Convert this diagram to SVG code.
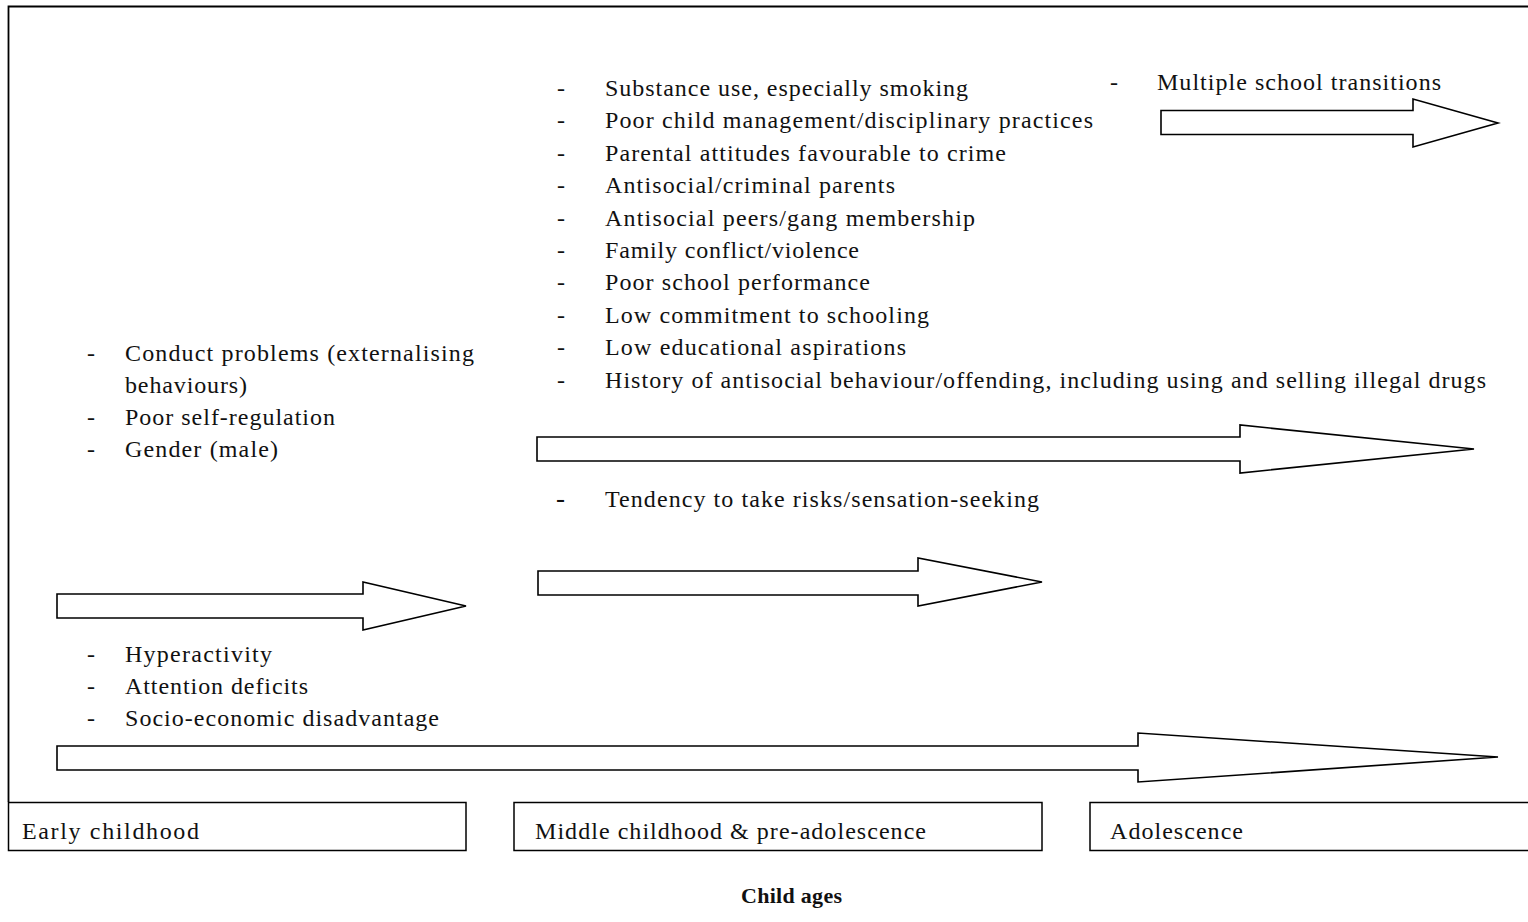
<svg xmlns="http://www.w3.org/2000/svg" width="1528" height="922" viewBox="0 0 1528 922">
<style>
text { font-family: "Liberation Serif", "Times New Roman", serif; font-size: 24px; fill: #111; }
.bold { font-weight: bold; font-size: 22px; }
.frame { fill: none; stroke: #000; stroke-width: 1.8; }
.box { fill: #fff; stroke: #000; stroke-width: 1.5; }
.arrow { fill: #fff; stroke: #000; stroke-width: 1.6; stroke-linejoin: miter; }
</style>
<rect width="1528" height="922" fill="#fff"/>
<g id="frame">
<path class="frame" d="M8.5,802 L8.5,6.5 L1530,6.5"/>
</g>
<g id="connectors">
<polygon class="arrow" points="1161,110.5 1413,110.5 1413,99 1498,123 1413,147 1413,134.5 1161,134.5"/>
<polygon class="arrow" points="537,437 1240,437 1240,425 1474,449 1240,473 1240,461 537,461"/>
<polygon class="arrow" points="538,571 918,571 918,558 1042,582 918,606 918,595 538,595"/>
<polygon class="arrow" points="57,594 363,594 363,582 466,606 363,630 363,618 57,618"/>
<polygon class="arrow" points="57,746 1138,746 1138,733 1498,757 1138,782 1138,770 57,770"/>
</g>
<g id="adolescence-factors">
<text x="1110" y="90">-</text>
<text x="1157" y="90" textLength="284">Multiple school transitions</text>
</g>
<g id="middle-factors">
<text x="557" y="96">-</text><text x="605" y="96" textLength="363">Substance use, especially smoking</text>
<text x="557" y="128.4">-</text><text x="605" y="128.4" textLength="488">Poor child management/disciplinary practices</text>
<text x="557" y="160.8">-</text><text x="605" y="160.8" textLength="401">Parental attitudes favourable to crime</text>
<text x="557" y="193.2">-</text><text x="605" y="193.2" textLength="290">Antisocial/criminal parents</text>
<text x="557" y="225.6">-</text><text x="605" y="225.6" textLength="370">Antisocial peers/gang membership</text>
<text x="557" y="258">-</text><text x="605" y="258" textLength="254">Family conflict/violence</text>
<text x="557" y="290.4">-</text><text x="605" y="290.4" textLength="265">Poor school performance</text>
<text x="557" y="322.8">-</text><text x="605" y="322.8" textLength="324">Low commitment to schooling</text>
<text x="557" y="355.2">-</text><text x="605" y="355.2" textLength="301">Low educational aspirations</text>
<text x="557" y="387.6">-</text><text x="605" y="387.6" textLength="881">History of antisocial behaviour/offending, including using and selling illegal drugs</text>
</g>
<g id="middle-risk">
<text x="556" y="507" style="font-size:27px">-</text>
<text x="605" y="507" textLength="434">Tendency to take risks/sensation-seeking</text>
</g>
<g id="early-factors">
<text x="87" y="361">-</text><text x="125" y="361" textLength="349">Conduct problems (externalising</text>
<text x="125" y="393" textLength="122">behaviours)</text>
<text x="87" y="425">-</text><text x="125" y="425" textLength="210">Poor self-regulation</text>
<text x="87" y="457">-</text><text x="125" y="457" textLength="153">Gender (male)</text>
</g>
<g id="lifelong-factors">
<text x="87" y="662">-</text><text x="125" y="662" textLength="147">Hyperactivity</text>
<text x="87" y="694">-</text><text x="125" y="694" textLength="183">Attention deficits</text>
<text x="87" y="726">-</text><text x="125" y="726" textLength="314">Socio-economic disadvantage</text>
</g>
<g id="box-early">
<rect class="box" x="8.5" y="802.5" width="457.5" height="48"/>
<text x="22" y="839" textLength="177">Early childhood</text>
</g>
<g id="box-middle">
<rect class="box" x="514" y="802.5" width="528" height="48"/>
<text x="535" y="839" textLength="391">Middle childhood &amp; pre-adolescence</text>
</g>
<g id="box-adolescence">
<rect class="box" x="1090" y="802.5" width="445" height="48"/>
<text x="1110" y="839" textLength="133">Adolescence</text>
</g>
<g id="axis-label">
<text class="bold" x="741" y="903" textLength="101">Child ages</text>
</g>
</svg>
